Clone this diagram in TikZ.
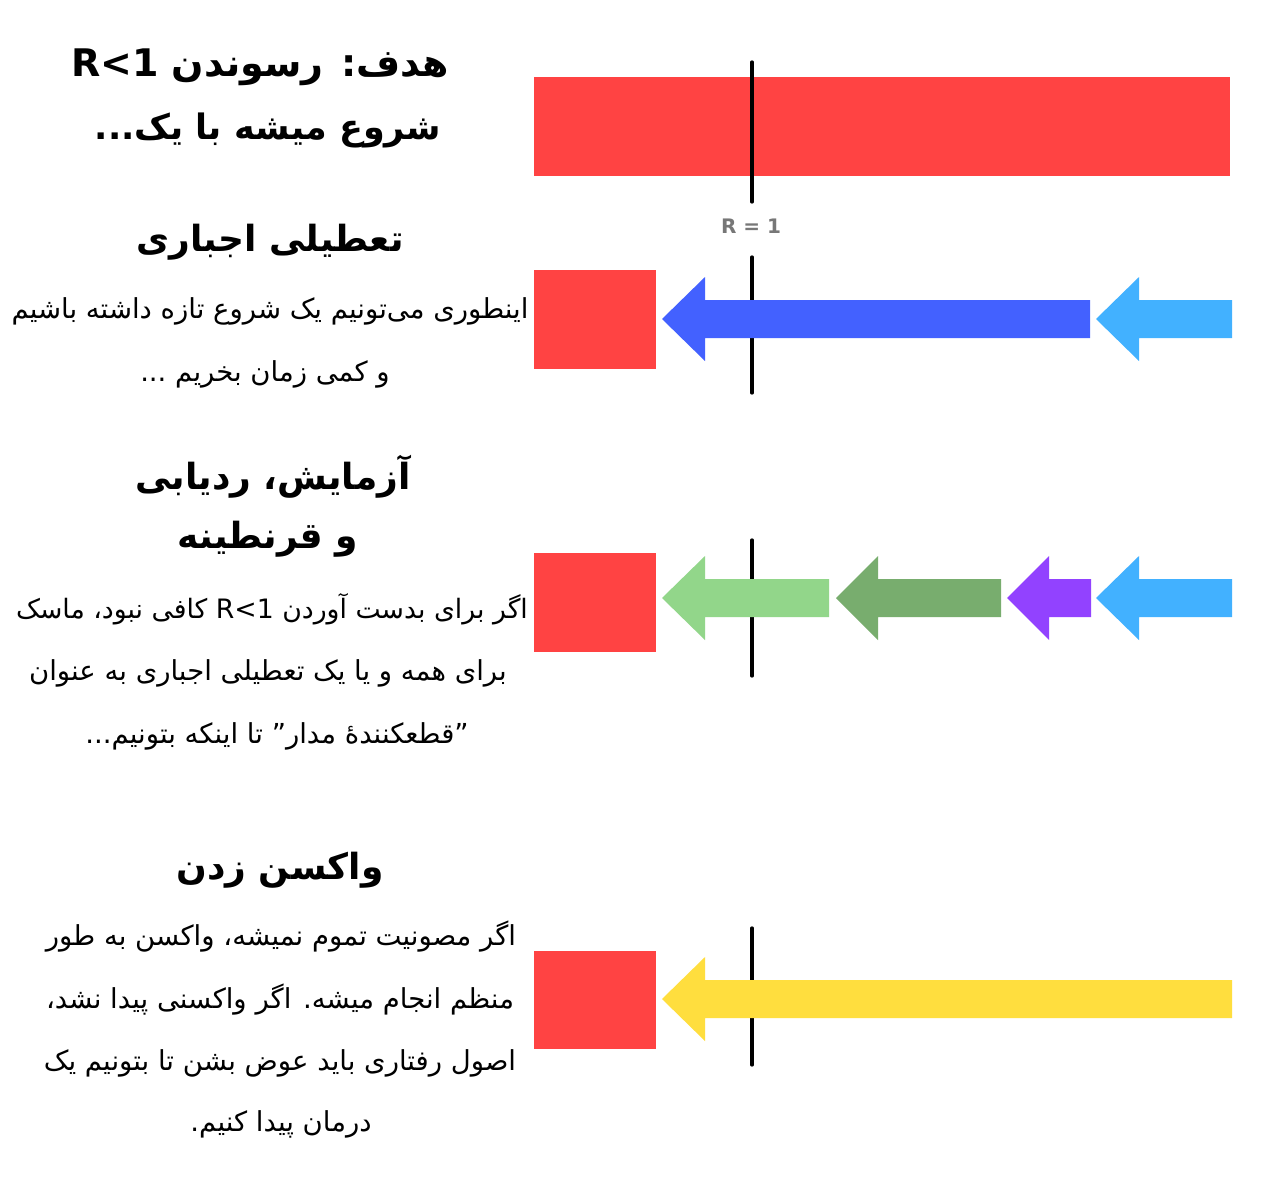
\documentclass[tikz,border=0pt]{standalone}
\usepackage{fontspec}
\TeXXeTstate=1
\newfontfamily\fa[Script=Arabic]{DejaVu Sans}
\newfontfamily\lat{DejaVu Sans}
\definecolor{barred}{HTML}{FF4343}
\definecolor{cblue}{HTML}{4361FF}
\definecolor{clblue}{HTML}{42B1FF}
\definecolor{clgreen}{HTML}{92D68A}
\definecolor{cdgreen}{HTML}{78AD6E}
\definecolor{cpurple}{HTML}{9242FF}
\definecolor{cyellow}{HTML}{FFDE3E}
\definecolor{cgray}{HTML}{777777}
\newcommand\leftarr[5]{% color, tip x, head base x, end x, centre y
  \fill[#1] (#2,#5) -- (#3,#5-42) -- (#3,#5-19) -- (#4,#5-19) -- (#4,#5+19) -- (#3,#5+19) -- (#3,#5+42) -- cycle;}
\begin{document}
\begin{tikzpicture}[x=1pt,y=-1pt,
  redbox/.style={fill=barred, draw=none, anchor=north west, inner sep=0pt},
  rline/.style={line width=3.3pt, line cap=round, black},
  fatext/.style={inner sep=0pt, text height=0.95em, text depth=0.05em, yshift=-7pt},
  bigtitle/.style={fatext, font=\fa\bfseries\fontsize{38}{46}\selectfont},
  head/.style={fatext, font=\fa\bfseries\fontsize{36}{42}\selectfont},
  body/.style={fatext, font=\fa\fontsize{27.5}{32}\selectfont},
  rlabel/.style={font=\lat\bfseries\fontsize{20}{24}\selectfont, text=cgray, inner sep=0pt}]
\useasboundingbox (0,0) rectangle (1280,1200);
\fill[white] (0,0) rectangle (1280,1200);

% top bar
\node[redbox, minimum width=696pt, minimum height=99pt] (bar0) at (534,77) {};
\coordinate (l0a) at (752,62); \coordinate (l0b) at (752,202);
\draw[rline] (l0a) -- (l0b);
\node[rlabel] (rone) at (751,226) {R = 1};

% titles
\node[bigtitle] (t1) at (260,65) {\beginR هدف: رسوندن \beginL R<1\endL\endR};
\node[bigtitle, font=\fa\bfseries\fontsize{35}{42}\selectfont] (t2) at (268,128) {\beginR شروع میشه با یک...\endR};

% row 1
\node[head] (h1) at (270,240) {\beginR تعطیلی اجباری\endR};
\node[body] (b1a) at (270,307) {\beginR اینطوری می‌تونیم یک شروع تازه داشته باشیم\endR};
\node[body] (b1b) at (265,370) {\beginR و کمی زمان بخریم ...\endR};
\node[redbox, minimum width=122pt, minimum height=99pt] (r1) at (534,270) {};
\coordinate (l1a) at (752,257); \coordinate (l1b) at (752,393);
\draw[rline] (l1a) -- (l1b);
\leftarr{cblue}{662}{705}{1090}{319}
\leftarr{clblue}{1096}{1139}{1232}{319}

% row 2
\node[head] (h2a) at (273,478) {\beginR آزمایش، ردیابی\endR};
\node[head] (h2b) at (268,537) {\beginR و قرنطینه\endR};
\node[body, font=\fa\fontsize{26.7}{32}\selectfont] (b2a) at (272,607) {\beginR اگر برای بدست آوردن \beginL R<1\endL{} کافی نبود، ماسک\endR};
\node[body] (b2b) at (268,669) {\beginR برای همه و یا یک تعطیلی اجباری به عنوان\endR};
\node[body] (b2c) at (277,732) {\beginR ”قطعکننده‌ٔ مدار” تا اینکه بتونیم...\endR};
\node[redbox, minimum width=122pt, minimum height=99pt] (r2) at (534,553) {};
\coordinate (l2a) at (752,540); \coordinate (l2b) at (752,676);
\draw[rline] (l2a) -- (l2b);
\leftarr{clgreen}{662}{705}{829}{598}
\leftarr{cdgreen}{836}{878}{1001}{598}
\leftarr{cpurple}{1007}{1049}{1091}{598}
\leftarr{clblue}{1096}{1139}{1232}{598}

% row 3
\node[head] (h3) at (280,868) {\beginR واکسن زدن\endR};
\node[body] (b3a) at (281,934) {\beginR اگر مصونیت تموم نمیشه، واکسن به طور\endR};
\node[body] (b3b) at (280,997) {\beginR منظم انجام میشه. اگر واکسنی پیدا نشد،\endR};
\node[body] (b3c) at (280,1059) {\beginR اصول رفتاری باید عوض بشن تا بتونیم یک\endR};
\node[body] (b3d) at (281,1120) {\beginR درمان پیدا کنیم.\endR};
\node[redbox, minimum width=122pt, minimum height=98pt] (r3) at (534,951) {};
\coordinate (l3a) at (752,928); \coordinate (l3b) at (752,1065);
\draw[rline] (l3a) -- (l3b);
\leftarr{cyellow}{662}{705}{1232}{999}
\end{tikzpicture}
\end{document}
